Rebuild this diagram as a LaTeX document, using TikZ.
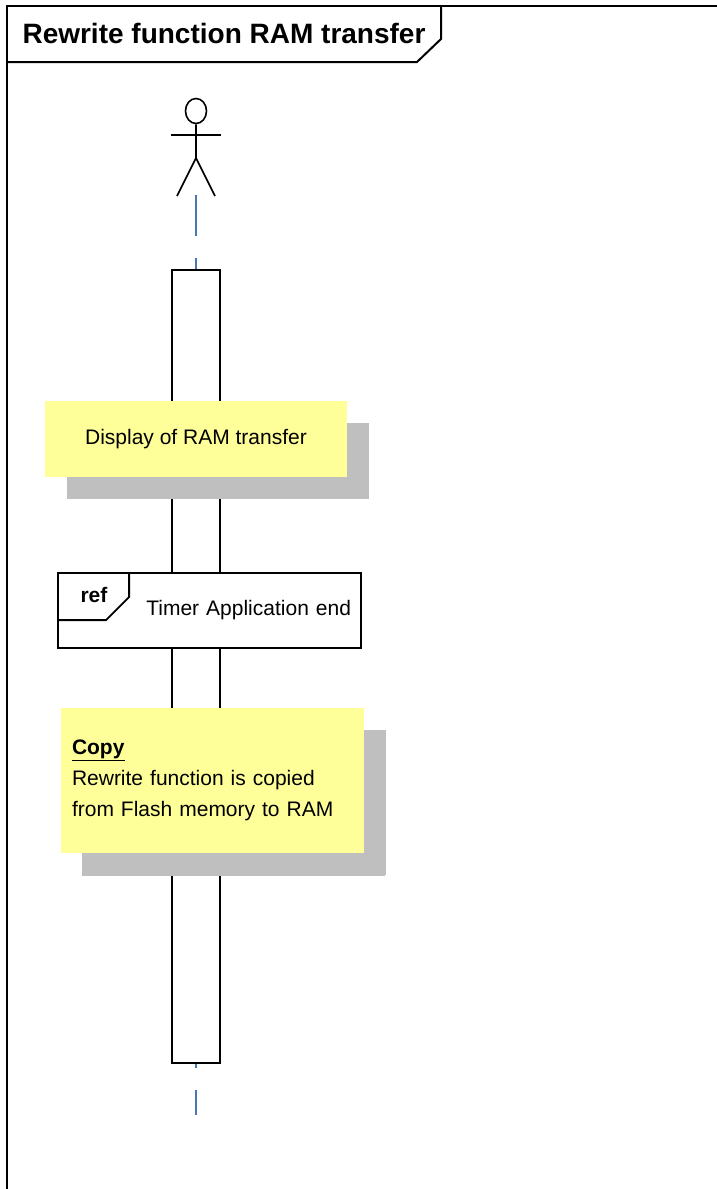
\documentclass[tikz,border=0pt]{standalone}
\usepackage{fontspec}
\setmainfont{Liberation Sans}
\usetikzlibrary{shapes.geometric,shadows,positioning}

\definecolor{noteyellow}{RGB}{255,255,153}
\definecolor{shadowgray}{RGB}{191,191,191}
\definecolor{lifeblue}{RGB}{70,120,180}

\begin{document}
\begin{tikzpicture}[x=1pt, y=-1pt,
        frameline/.style={line width=2pt},
        actor/.style={line width=1.6pt},
        actbox/.style={draw, line width=1.8pt, fill=white, minimum width=48pt, minimum height=793pt, inner sep=0pt},
        lifeline/.style={draw=lifeblue, line width=2pt, dash pattern=on 41pt off 22pt},
        note/.style={fill=noteyellow, inner sep=0pt, font=\fontsize{21}{31}\selectfont,
            drop shadow={shadow xshift=22pt, shadow yshift=-22pt, fill=shadowgray, opacity=1}},
        refbox/.style={draw, line width=1.8pt, fill=white, minimum width=303pt, minimum height=75pt, inner xsep=10pt, font=\fontsize{21}{25}\selectfont}]
        \useasboundingbox (0,0) rectangle (717,1189);
        % frame and title
        \draw [frameline] (7,1200) -- (7,6) -- (730,6);
        \draw [frameline] (441,6) -- (441,39) -- (417,62) -- (7,62);
        \node (title) at (224,33) {\fontsize{28}{32}\selectfont\bfseries Rewrite function RAM transfer};
        % actor
        \node [draw, ellipse, actor, minimum width=21pt, minimum height=25pt, inner sep=0pt] (head) at (196,111) {};
        \draw [actor] (head.south) -- (196,158) coordinate (hip) -- (177,196);
        \draw [actor] (hip) -- (215,196);
        \draw [actor] (171,135) -- (221,135);
        \coordinate (lifetop) at (196,195);
        \coordinate (lifeend) at (196,1115);
        % lifeline and activation
        \node [actbox] (act) at (196,666.5) {};
        \draw [lifeline] (lifetop) -- (act.north);
        \draw [lifeline, dash phase=37pt] (act.south) -- (lifeend);
        % notes and ref
        \node [note, minimum width=302pt, minimum height=76pt] (display) at (196,439) {Display of RAM transfer};
        \node [refbox, text width=283pt, align=right] (timerref) at (209.5,610.5) {\raisebox{-3pt}{Timer Application end}};
        \draw [line width=1.8pt] ([xshift=72pt]timerref.north west) -- ++(0,25) -- ++(-23,23) -- ++(-49,0);
        \node (reflabel) at (94,595) {\fontsize{21}{25}\selectfont\bfseries ref};
        \node [note, minimum width=303pt, minimum height=145pt, text width=281pt, inner xsep=11pt, align=left,
            drop shadow={shadow xshift=21pt, shadow yshift=-23pt, fill=shadowgray, opacity=1}] (copynote) at (212.5,780.5)
            {\underline{\textbf{Copy}}\\Rewrite function is copied\\from Flash memory to RAM};
    \end{tikzpicture}
\end{document}
